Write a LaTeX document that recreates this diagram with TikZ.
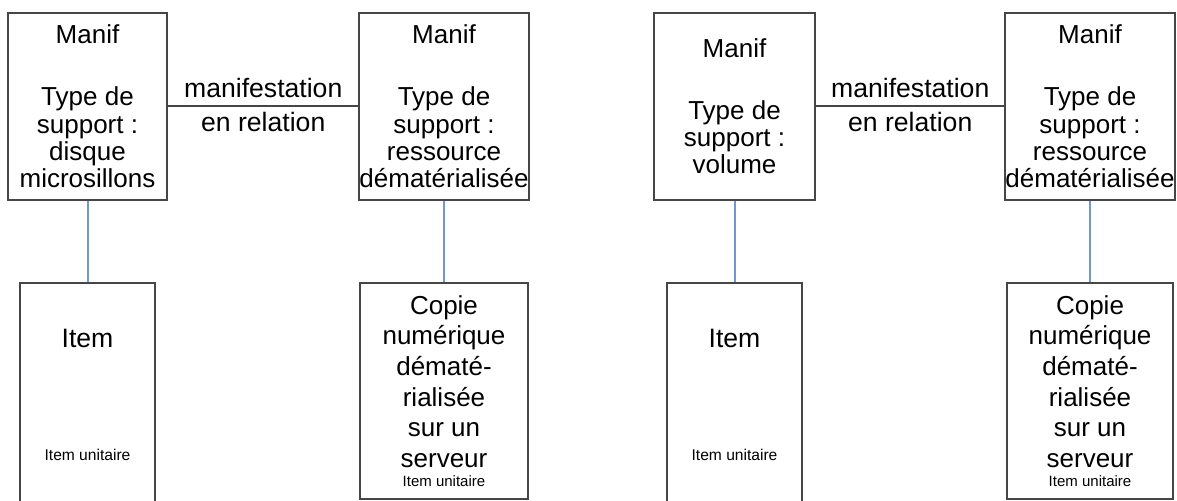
\documentclass[tikz,border=0pt]{standalone}
\usepackage{fontspec}
\setmainfont{Liberation Sans}
\definecolor{boxgray}{RGB}{70,70,70}
\definecolor{linkblue}{RGB}{115,150,205}

\begin{document}
\begin{tikzpicture}[
			x=0.5pt, y=-0.5pt,
			manif/.style={draw=boxgray, line width=1pt, minimum height=93.5pt, inner sep=0pt, align=center, font=\fontsize{13}{13.65}\selectfont},
			itembox/.style={draw=boxgray, line width=1pt, minimum height=118.5pt, inner sep=0pt},
			copie/.style={draw=boxgray, line width=1pt, minimum height=108pt, inner sep=0pt, align=center, font=\fontsize{13}{15.3}\selectfont},
			big/.style={font=\fontsize{13.3}{14}\selectfont, inner sep=0pt},
			small/.style={font=\fontsize{7.8}{9}\selectfont, inner sep=0pt},
			rel/.style={draw=boxgray, line width=1pt},
			link/.style={draw=linkblue, line width=1pt}
			]

				\useasboundingbox (0,0) rectangle (1177,501);

				\node[manif, minimum width=79.5pt] (m1) at (87.5,106.5) {Manif\\[17.35pt]Type de\\support :\\disque\\microsillons};
				\node[manif, minimum width=84pt] (m2) at (444,106.5) {Manif\\[17.35pt]Type de\\support :\\ressource\\dématérialisée};
				\node[manif, minimum width=80.5pt] (m3) at (734.5,106.5) {Manif\\[17pt]Type de\\support :\\volume};
				\node[manif, minimum width=83pt] (m4) at (1090,106.5) {Manif\\[17.35pt]Type de\\support :\\ressource\\dématérialisée};

				\node[itembox, minimum width=67.5pt] (i1) at (87.5,401.5) {};
				\node[big, anchor=base] (i1t) at (87.5,348) {Item};
				\node[small, anchor=base] (i1s) at (87.5,461) {Item unitaire};
				\node[itembox, minimum width=67.5pt] (i2) at (734.5,401.5) {};
				\node[big, anchor=base] (i2t) at (734.5,348) {Item};
				\node[small, anchor=base] (i2s) at (734.5,461) {Item unitaire};

				\node[copie, minimum width=84pt] (c1) at (444,391) {Copie\\numérique\\dématé-\\rialisée\\sur un\\serveur\\[-5.8pt]{\fontsize{7.5}{9}\selectfont Item unitaire}};
				\node[copie, minimum width=83pt] (c2) at (1090,391) {Copie\\numérique\\dématé-\\rialisée\\sur un\\serveur\\[-5.8pt]{\fontsize{7.5}{9}\selectfont Item unitaire}};

				\draw[rel] (m1.east) -- node[big, above=4pt] (r1a) {manifestation} node[big, below=2.5pt] (r1b) {en relation} (m2.west);
				\draw[rel] (m3.east) -- node[big, above=4pt] (r2a) {manifestation} node[big, below=2.5pt] (r2b) {en relation} (m4.west);

				\draw[link] (m1.south) -- (i1.north);
				\draw[link] (m2.south) -- (c1.north);
				\draw[link] (m3.south) -- (i2.north);
				\draw[link] (m4.south) -- (c2.north);

			\end{tikzpicture}
\end{document}
